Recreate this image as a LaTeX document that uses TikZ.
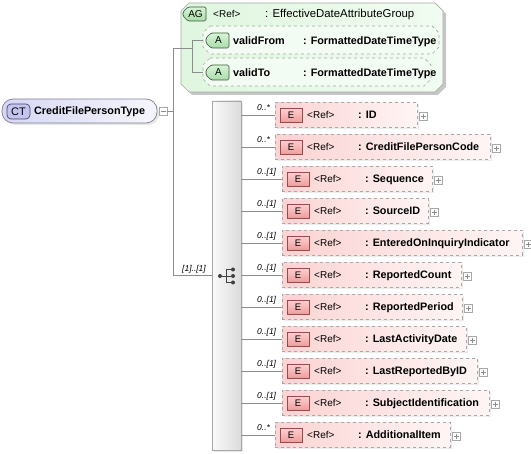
\documentclass[tikz,border=0pt]{standalone}
\usepackage{fontspec}
\setmainfont{Liberation Sans}
\usetikzlibrary{shadows,calc}
\definecolor{lineg}{HTML}{8C8C8C}
\definecolor{boxg}{HTML}{A8A8A8}
\definecolor{pinkL}{HTML}{FBD3D3}
\definecolor{pinkR}{HTML}{FFF5F5}
\definecolor{ebT}{HTML}{FBD0D0}
\definecolor{ebB}{HTML}{F09A9A}
\definecolor{ebD}{HTML}{9A4A4A}
\definecolor{agF}{HTML}{DFF6DF}
\definecolor{agL}{HTML}{F2FCF2}
\definecolor{abT}{HTML}{D8F4D8}
\definecolor{abB}{HTML}{A8DCA8}
\definecolor{abD}{HTML}{3C5A3C}
\definecolor{ctL}{HTML}{D6D6F4}
\definecolor{ctR}{HTML}{F6F6FD}
\definecolor{ctB}{HTML}{C4C4EE}
\definecolor{ctD}{HTML}{4A4A6A}
\begin{document}
\begin{tikzpicture}[x=1pt,y=-1pt,
  conn/.style={draw=lineg,line width=0.7pt},
  ebox/.style={draw=boxg,dashed,line width=0.7pt,left color=pinkL,right color=pinkR,minimum height=25pt,inner sep=0pt,anchor=west,
     drop shadow={shadow xshift=2pt,shadow yshift=-2pt,opacity=0.15,fill=gray}},
  ebadge/.style={draw=ebD,line width=0.7pt,top color=ebT,bottom color=ebB,minimum width=22pt,minimum height=14pt,inner sep=0pt,font=\fontsize{9.5}{9.5}\selectfont},
  reftxt/.style={inner sep=0pt,anchor=base west,font=\fontsize{10}{10}\selectfont},
  nametxt/.style={inner sep=0pt,anchor=base west,font=\fontsize{10.8}{12}\selectfont\bfseries},
  mult/.style={inner sep=0pt,anchor=base west,font=\fontsize{8.5}{9}\selectfont\itshape},
  plusbox/.style={draw=boxg,fill=white,minimum width=8pt,minimum height=8pt,inner sep=0pt,line width=0.6pt,
     path picture={\draw[lineg,line width=0.6pt] ([xshift=-2.5pt]path picture bounding box.center) -- ([xshift=2.5pt]path picture bounding box.center);
                   \draw[lineg,line width=0.6pt] ([yshift=-2.5pt]path picture bounding box.center) -- ([yshift=2.5pt]path picture bounding box.center);}},
  minusbox/.style={draw=boxg,fill=white,minimum width=8pt,minimum height=8pt,inner sep=0pt,line width=0.6pt,
     path picture={\draw[lineg,line width=0.6pt] ([xshift=-2.5pt]path picture bounding box.center) -- ([xshift=2.5pt]path picture bounding box.center);}},
  abox/.style={draw=boxg,dashed,line width=0.7pt,fill=agL},
  tagbadge/.style={draw=abD,line width=0.7pt,top color=abT,bottom color=abB,rounded corners=1.5pt},
  dot/.style={circle,fill=black!75,inner sep=0pt,minimum size=4pt}
]
\useasboundingbox (0,0) rectangle (531,454);

% ---------- attribute group ----------
\fill[gray!45] (192,6) -- (438,6) -- (446,14) -- (446,87) -- (438,95) -- (192,95) -- (184,87) -- (184,14) -- cycle;
\draw[draw=boxg,line width=0.7pt,left color=agF,right color=agL] (189,3) -- (435,3) -- (443,11) -- (443,84) -- (435,92) -- (189,92) -- (181,84) -- (181,11) -- cycle;
\node[inner sep=0pt,minimum width=262pt,minimum height=89pt] (ag) at (312,47.5) {};
\draw[tagbadge] (206,7) -- (188,7) -- (183,12) -- (183,16) -- (188,21) -- (206,21) -- cycle;
\node[inner sep=0pt,font=\fontsize{10}{10}\selectfont] (agt) at (195.5,14) {AG};
\node[reftxt] (agr) at (213,18) {<Ref>};
\node[inner sep=0pt,anchor=base west,font=\fontsize{11.4}{12}\selectfont] (agn) at (265,18) {: EffectiveDateAttributeGroup};

% validFrom
\draw[abox] (210,26) -- (432,26) -- (439,33) -- (439,47) -- (432,54) -- (210,54) -- (203,47) -- (203,33) -- cycle;
\node[inner sep=0pt,minimum width=236pt,minimum height=28pt] (vf) at (321,40) {};
\draw[tagbadge] (229,33) -- (211,33) -- (206,38) -- (206,43) -- (211,48) -- (229,48) -- cycle;
\node[inner sep=0pt,font=\fontsize{10}{10}\selectfont] (vfa) at (218.5,40.5) {A};
\node[nametxt] (vfn) at (233,45) {validFrom};
\node[nametxt] (vft) at (303,45) {: FormattedDateTimeType};

% validTo
\draw[abox] (210,58) -- (424,58) -- (431,65) -- (431,79) -- (424,86) -- (210,86) -- (203,79) -- (203,65) -- cycle;
\node[inner sep=0pt,minimum width=228pt,minimum height=28pt] (vt) at (317,72) {};
\draw[tagbadge] (229,65) -- (211,65) -- (206,70) -- (206,75) -- (211,80) -- (229,80) -- cycle;
\node[inner sep=0pt,font=\fontsize{10}{10}\selectfont] (vta) at (218.5,72.5) {A};
\node[nametxt] (vtn) at (233,77) {validTo};
\node[nametxt] (vtt) at (303,77) {: FormattedDateTimeType};

% ---------- complex type ----------
\node[draw=ctD!70,line width=0.7pt,rounded corners=11pt,left color=ctL,right color=ctR,minimum width=155pt,minimum height=24pt,inner sep=0pt,
      drop shadow={shadow xshift=2pt,shadow yshift=-2pt,opacity=0.2,fill=gray}] (ct) at (79.5,111) {};
\node[draw=ctD,line width=0.7pt,fill=ctB,rounded corners=4pt,minimum width=23pt,minimum height=15pt,inner sep=0pt,font=\fontsize{11}{11}\selectfont] (ctb) at (18.5,111.5) {CT};
\node[nametxt] (ctn) at (34,115) {CreditFilePersonType};
\node[minusbox] (mn) at (163,111) {};

% ---------- sequence ----------
\node[draw=boxg,line width=0.7pt,left color=white!96!gray,right color=gray!28,minimum width=29pt,minimum height=349pt,inner sep=0pt,
      drop shadow={shadow xshift=2pt,shadow yshift=-2pt,opacity=0.2,fill=gray}] (seq) at (226.5,275.5) {};
\node[dot,minimum size=4pt] (s0) at (220,276) {};
\node[dot,minimum size=4pt] (s1) at (233,269.5) {};
\node[dot,minimum size=4pt] (s2) at (233,276) {};
\node[dot,minimum size=4pt] (s3) at (233,282.5) {};
\draw[black!75,line width=0.9pt] (s0) -- (226,276);
\draw[black!75,line width=0.9pt] (226,269.5) -- (226,282.5);
\draw[black!75,line width=0.9pt] (226,269.5) -- (s1);
\draw[black!75,line width=0.9pt] (226,276) -- (s2);
\draw[black!75,line width=0.9pt] (226,282.5) -- (s3);

% ---------- connectors on the left ----------
\coordinate (j1) at (173,48);
\coordinate (j2) at (173,275);
\coordinate (j3) at (192,48);
\draw[conn] (mn.east) -- (mn.east -| j1);
\draw[conn] (j1) -- (j2);
\draw[conn] (j1) -- (j3);
\draw[conn] (192,40) -- (192,72);
\draw[conn] (192,40) -- (vf.west);
\draw[conn] (192,72) -- (vt.west);
\draw[conn] (j2) -- (seq.west |- j2);
\node[mult] (m11) at (182,272) {[1]..[1]};

% ---------- elements ----------
\foreach \i/\l/\r/\n/\m in {
  0/275/417/ID/0..*,
  1/275/490/CreditFilePersonCode/0..*,
  2/282/432/Sequence/0..[1],
  3/282/428/SourceID/0..[1],
  4/282/522/EnteredOnInquiryIndicator/0..[1],
  5/282/461/ReportedCount/0..[1],
  6/282/462/ReportedPeriod/0..[1],
  7/282/466/LastActivityDate/0..[1],
  8/282/477/LastReportedByID/0..[1],
  9/282/489/SubjectIdentification/0..[1],
  10/275/450/AdditionalItem/0..*}{
  \pgfmathsetmacro\y{115+32*\i}
  \pgfmathsetmacro\w{\r-\l}
  \node[ebox,minimum width=\w pt] (e\i) at (\l,\y) {};
  \node[ebadge] (b\i) at ({\l+16},{\y+0.5}) {E};
  \node[reftxt] (r\i) at ({\l+32},{\y+3.5}) {<Ref>};
  \node[nametxt] (n\i) at ({\l+83},{\y+4}) {: \n};
  \node[plusbox] (p\i) at ({\r+6.5},{\y+1.5}) {};
  \node[mult] (m\i) at (257,{\y-4.5}) {\m};
  \draw[conn] (seq.east |- e\i.west) -- (e\i.west);
}
\end{tikzpicture}
\end{document}
